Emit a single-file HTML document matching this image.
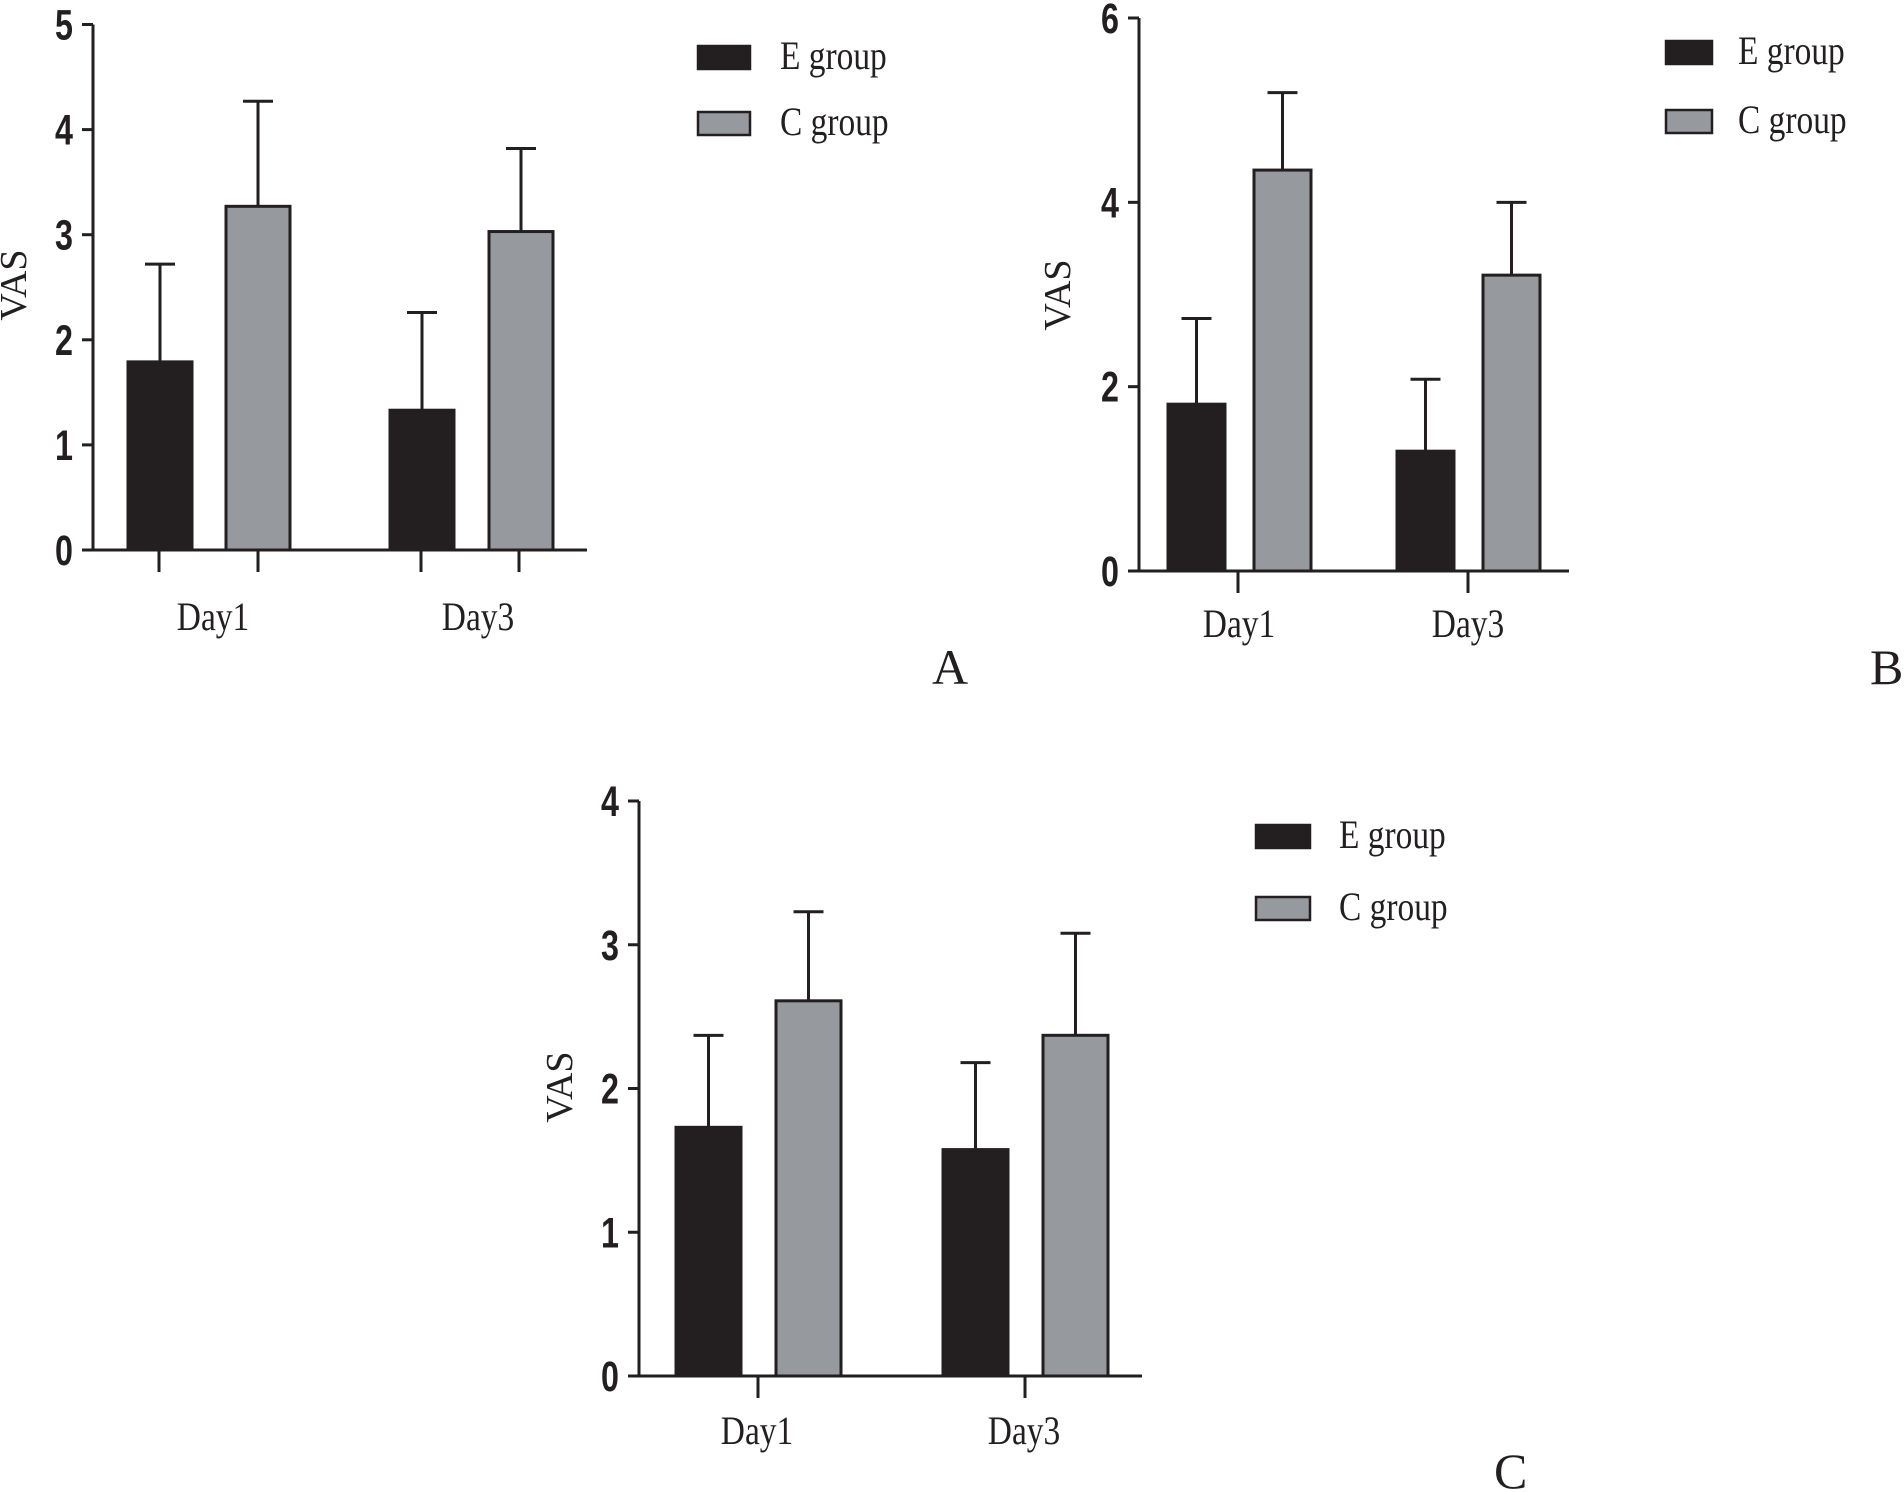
<!DOCTYPE html>
<html><head><meta charset="utf-8"><style>
html,body{margin:0;padding:0;background:#fff;overflow:hidden;width:1904px;height:1492px;}
svg{display:block;}
.tk{font-family:"Liberation Sans",sans-serif;font-weight:bold;font-size:38px;fill:#231f20;}
.sf{font-family:"Liberation Serif",serif;fill:#231f20;}
</style></head><body>
<svg id="chart" width="1904" height="1492" viewBox="0 0 1904 1492"></svg>
<script>
const categories = ["Day1", "Day3"];
const seriesNames = ["E group", "C group"];
const aEMean = [1.79, 1.33];
const aEErr = [2.72, 2.26];
const aCMean = [3.27, 3.03];
const aCErr = [4.27, 3.82];
const aTicks = [0, 1, 2, 3, 4, 5];
const bEMean = [1.81, 1.30];
const bEErr = [2.74, 2.08];
const bCMean = [4.35, 3.21];
const bCErr = [5.19, 4.00];
const bTicks = [0, 2, 4, 6];
const cEMean = [1.73, 1.575];
const cEErr = [2.37, 2.18];
const cCMean = [2.61, 2.37];
const cCErr = [3.23, 3.08];
const cTicks = [0, 1, 2, 3, 4];

const NS = "http://www.w3.org/2000/svg";
const svg = document.getElementById("chart");
function mk(tag, attrs, parent, text) {
  const e = document.createElementNS(NS, tag);
  for (const k in attrs) e.setAttribute(k, attrs[k]);
  if (text !== undefined) e.textContent = text;
  (parent || svg).appendChild(e);
  return e;
}
const colors = ["#231f20", "#96999e"];

function panel(p) {
  const g = mk("g", {});
  
  
  const ymax = p.ticks[p.ticks.length - 1];
  const y = v => p.y0 - (p.y0 - p.yTop) * v / ymax;
  const means = [p.eMean, p.cMean], errs = [p.eErr, p.cErr];
  for (let s = 0; s < 2; s++) {
    for (let i = 0; i < categories.length; i++) {
      const x0 = p.barX[i][s];
      const cx = x0 + p.barW / 2;
      const eb = mk("line", {x1: cx, x2: cx, y1: y(means[s][i]), y2: y(errs[s][i]), stroke: "#231f20", "stroke-width": 3}, g);
      
      
      const cap = mk("line", {x1: cx - 15, x2: cx + 15, y1: y(errs[s][i]), y2: y(errs[s][i]), stroke: "#231f20", "stroke-width": 3}, g);
      
      
      const r = mk("rect", {x: x0, y: y(means[s][i]), width: p.barW, height: p.y0 - y(means[s][i]), fill: colors[s], stroke: "#231f20", "stroke-width": 3}, g);
      
      
    }
  }
  const ya = mk("line", {x1: p.ax, x2: p.ax, y1: p.yTop, y2: p.y0 + 1.5, stroke: "#231f20", "stroke-width": 3}, g);
  
  
  const xa = mk("line", {x1: p.ax - 11, x2: p.xEnd, y1: p.y0, y2: p.y0, stroke: "#231f20", "stroke-width": 3}, g);
  
  
  p.ticks.forEach(t => {
    mk("line", {x1: p.ax - 11, x2: p.ax, y1: y(t), y2: y(t), stroke: "#231f20", "stroke-width": 3}, g);
    const tl = mk("text", {x: 0, y: 0, "text-anchor": "end", class: "tk", transform: `translate(${p.ax - 20},${y(t) + 15}) scale(0.85,1.12)`}, g, t);
    
    
  });
  p.xTicks.forEach(tx => {
    mk("line", {x1: tx, x2: tx, y1: p.y0, y2: p.y0 + 22, stroke: "#231f20", "stroke-width": 3}, g);
  });
  categories.forEach((c, i) => {
    const tl = mk("text", {x: 0, y: 0, "text-anchor": "middle", class: "sf", "font-size": 38, transform: `translate(${p.labelX[i]},${p.labelY}) scale(0.88,1.05)`}, g, c);
    
    
  });
  const yt = mk("text", {x: 0, y: 0, "text-anchor": "middle", class: "sf", "font-size": 38, transform: `translate(${p.vasX},${p.vasY}) rotate(-90)`}, g, "VAS");
  
  
  for (let s = 0; s < 2; s++) {
    const ly = p.legY[s];
    const box = mk("rect", {x: p.legX, y: ly, width: p.legW, height: 23, fill: colors[s], stroke: "#231f20", "stroke-width": 2.5}, g);
    
    
    const lt = mk("text", {x: 0, y: 0, class: "sf", "font-size": 38, transform: `translate(${p.legTX},${ly + 23}) scale(0.88,1.05)`}, g, seriesNames[s]);
    
    
  }
  const pl = mk("text", {x: p.letterX, y: p.letterY, class: "sf", "font-size": 50}, g, p.letter);
  
  
}

panel({letter: "A", ax: 93, y0: 550, yTop: 24.5, xEnd: 587, ticks: aTicks,
  eMean: aEMean, eErr: aEErr, cMean: aCMean, cErr: aCErr, barW: 64,
  barX: [[128, 226], [390, 489]], xTicks: [159, 258, 421, 519], labelX: [213, 478], labelY: 630,
  vasX: 26, vasY: 285, legX: 698, legW: 52, legY: [46, 112], legTX: 780, letterX: 932, letterY: 684});
panel({letter: "B", ax: 1139, y0: 571, yTop: 18, xEnd: 1569, ticks: bTicks,
  eMean: bEMean, eErr: bEErr, cMean: bCMean, cErr: bCErr, barW: 57,
  barX: [[1168, 1254], [1397, 1483]], xTicks: [1238, 1468], labelX: [1239, 1468], labelY: 637,
  vasX: 1070, vasY: 295, legX: 1666, legW: 46, legY: [41, 110], legTX: 1738, letterX: 1870, letterY: 684});
panel({letter: "C", ax: 639, y0: 1376, yTop: 801, xEnd: 1142, ticks: cTicks,
  eMean: cEMean, eErr: cEErr, cMean: cCMean, cErr: cCErr, barW: 65,
  barX: [[676, 776], [943, 1043]], xTicks: [758, 1025], labelX: [757, 1024], labelY: 1444,
  vasX: 572, vasY: 1087, legX: 1256, legW: 54, legY: [825, 897], legTX: 1339, letterX: 1494, letterY: 1488});
</script>
</body></html>
